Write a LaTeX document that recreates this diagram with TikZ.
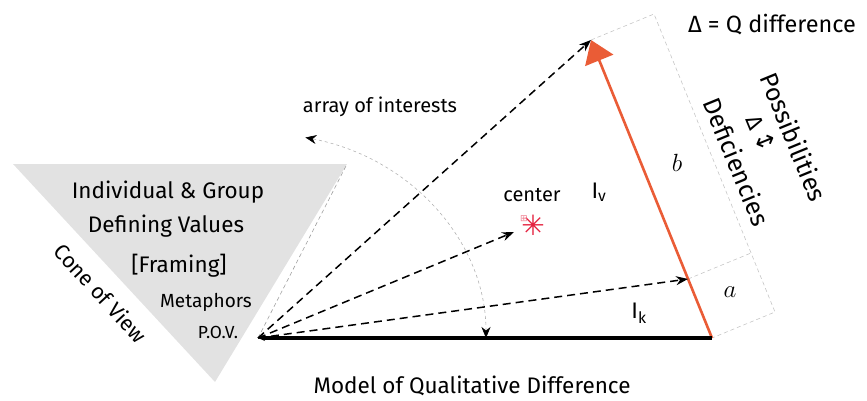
\documentclass[tikz,border=0pt]{standalone}
\usepackage{fontspec}
\setmainfont{Fira Sans}
\newfontfamily\symfont{DejaVu Sans}
\usepackage{tikz}
\usetikzlibrary{arrows.meta, positioning, calc}
\definecolor{vecorange}{RGB}{234, 92, 54}
\definecolor{conegray}{RGB}{226, 226, 226}
\definecolor{centerred}{RGB}{228, 32, 62}
\tikzset{
    txt/.style={
        inner sep=0pt,
        font=\fontsize{22.5}{26}\selectfont
    },
    smalltxt/.style={
        inner sep=0pt,
        font=\fontsize{19}{22}\selectfont
    },
    ray/.style={
        -{Stealth[length=12pt,width=9pt]},
        dash pattern=on 8pt off 5pt,
        line width=1.5pt
    },
    guide/.style={
        draw=gray!45,
        line width=0.6pt,
        dash pattern=on 4pt off 3pt
    },
    vec/.style={
        -{Triangle[length=22pt,width=30pt]},
        draw=vecorange,
        line width=2.6pt
    },
    groundline/.style={
        {Stealth[length=7pt,width=6pt]}-,
        line width=3.5pt
    },
    sweep/.style={
        {Stealth[length=11pt,width=9pt,color=black]}-{Stealth[length=11pt,width=9pt,color=black]},
        draw=gray!60,
        line width=0.6pt,
        dash pattern=on 3pt off 3pt
    }
}

\begin{document}
\begin{tikzpicture}[x=1pt, y=1pt]
    \useasboundingbox (0,0) rectangle (867,400);

    % cone of view
    \coordinate (coneL) at (13,236);
    \coordinate (coneR) at (347,236);
    \coordinate (coneB) at (215,18);
    \fill[conegray] (coneL) -- (coneR) -- (coneB) -- cycle;

    % main points
    \coordinate (pov) at (258,62);
    \coordinate (base) at (712,62);
    \coordinate (tip) at (591,360);
    \coordinate (hit) at (688,121);
    \coordinate (cen) at (514,168);
    \coordinate (boxT) at ($(tip)+(63,26)$);
    \coordinate (boxM) at ($(hit)+(63,26)$);
    \coordinate (boxB) at ($(base)+(63,26)$);

    % guide box and cone edge
    \draw[guide] (tip) -- (boxT) -- (boxB) -- (base);
    \draw[guide] (hit) -- (boxM);
    \draw[guide, draw=gray!75] (pov) -- (coneR);

    % sweep of interests
    \coordinate (sweepS) at (486,62);
    \draw[sweep] (sweepS) arc[start angle=0, end angle=78, x radius=228, y radius=205];

    % vectors
    \draw[vec] (base) -- (tip);
    \draw[groundline] (pov) -- (base);
    \foreach \dest in {tip, cen, hit}
        \draw[ray] (pov) -- (\dest);

    % labels
    \node[txt, font=\fontsize{23.5}{27}\selectfont] (qdiff) at (772,375) {Δ = Q difference};
    \node[txt, rotate=-67.7, font=\fontsize{25}{29}\selectfont] (poss) at (794,263) {Possibilities};
    \node[txt, rotate=-67.7, font=\fontsize{25}{29}\selectfont] (defi) at (737,238) {Deficiencies};
    \node[txt, rotate=-67.7] (dlt) at (755,277) {Δ};
    \node[txt, rotate=-67.7, font=\symfont\fontsize{24}{24}\selectfont] (updown) at (765,258) {↕};
    \node[txt, font=\fontsize{24}{28}\selectfont] (bsym) at (677,237) {$b$};
    \node[txt, font=\fontsize{24}{28}\selectfont] (asym) at (730,108) {$a$};
    \node[txt] (iv) at (599,208) {I\textsubscript{v}};
    \node[txt] (ik) at (639,87) {I\textsubscript{k}};
    \node[smalltxt, font=\fontsize{20}{23}\selectfont] (interests) at (380,293) {array of interests};
    \node[smalltxt, font=\fontsize{20}{23}\selectfont] (centertxt) at (532,205) {center};
    \node[font=\symfont\fontsize{28}{28}\selectfont, text=centerred] (star) at (533,175) {✳};
    \node[font=\symfont\fontsize{9}{9}\selectfont, text=centerred!60] (grid) at (524,181) {⊞};

    % cone texts
    \node[txt] (indiv) at (168,208) {Individual \& Group};
    \node[txt] (defval) at (166,174) {Defining Values};
    \node[txt] (framing) at (179,134) {[Framing]};
    \node[smalltxt] (metaph) at (206,98) {Metaphors};
    \node[smalltxt, font=\fontsize{17.5}{20}\selectfont] (povtxt) at (218,68) {P.O.V.};
    \node[txt, rotate=-47.2, font=\fontsize{21.5}{25}\selectfont] (cone) at (101,107) {Cone of View};

    \node[txt] (title) at (472,14) {Model of Qualitative Difference};
\end{tikzpicture}
\end{document}
